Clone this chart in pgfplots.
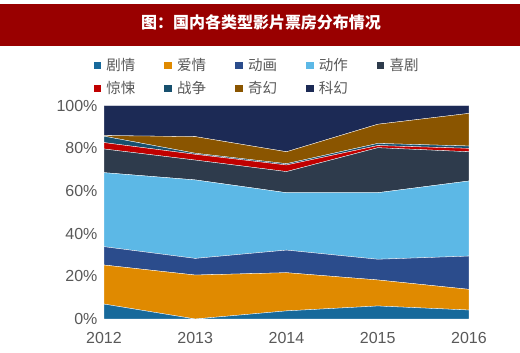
\documentclass[border=0pt]{standalone}
\usepackage{fontspec}
\setmainfont{Liberation Sans}
\newfontfamily\cjk{Noto Sans CJK SC}
\usepackage{pgfplots}
\pgfplotsset{compat=1.18}
\definecolor{cA}{HTML}{17699B}
\definecolor{cB}{HTML}{E08A00}
\definecolor{cC}{HTML}{2B4C8C}
\definecolor{cD}{HTML}{5CB8E6}
\definecolor{cE}{HTML}{2E3B4C}
\definecolor{cF}{HTML}{C00000}
\definecolor{cG}{HTML}{17506E}
\definecolor{cH}{HTML}{8A5500}
\definecolor{cI}{HTML}{1C2A55}
\definecolor{banner}{HTML}{990000}
\definecolor{tick}{HTML}{595959}
\begin{document}
\begin{tikzpicture}
\path[use as bounding box, fill=white] (0pt,0pt) rectangle (520pt,353pt);
\fill[banner] (0pt,307pt) rectangle (520pt,349pt);
\node[text=white, font=\cjk\bfseries\fontsize{16}{18}\selectfont] at (261pt,331pt) {图：国内各类型影片票房分布情况};
\begin{axis}[
  at={(104pt,34pt)}, anchor=south west,
  scale only axis, width=365pt, height=213.3pt,
  xmin=2012, xmax=2016, ymin=0, ymax=100,
  stack plots=y,
  axis line style={draw=none},
  major tick length=0pt,
  xtick={2012,2013,2014,2015,2016},
  ytick={0,20,40,60,80,100},
  yticklabel={\pgfmathprintnumber{\tick}\%},
  /pgf/number format/assume math mode=true,
  x tick label style={/pgf/number format/1000 sep={}, yshift=-10pt},
  y tick label style={xshift=-3pt},
  tick label style={font=\fontsize{16}{18}\selectfont, text=tick},
  legend columns=5,
  legend style={at={(-0.04,1.24)}, anchor=north west, draw=none, fill=none,
    font=\cjk\fontsize{14.5}{16}\selectfont, text=tick, row sep=5pt,
    /tikz/every odd column/.append style={column sep=3pt},
    /tikz/every even column/.append style={column sep=26pt}},
  legend image code/.code={\fill[#1] (0pt,-4pt) rectangle (8.5pt,4.5pt);},
  every axis plot/.append style={draw=white, line width=0.3pt},
]
\addplot[fill=cA] coordinates {(2012,7.0) (2013,0.0) (2014,3.8) (2015,6.1) (2016,4.2)} \closedcycle;
\addplot[fill=cB] coordinates {(2012,18.3) (2013,20.6) (2014,17.9) (2015,12.2) (2016,9.7)} \closedcycle;
\addplot[fill=cC] coordinates {(2012,8.6) (2013,7.8) (2014,10.6) (2015,9.7) (2016,15.6)} \closedcycle;
\addplot[fill=cD] coordinates {(2012,34.7) (2013,36.8) (2014,26.9) (2015,31.2) (2016,35.2)} \closedcycle;
\addplot[fill=cE] coordinates {(2012,11.1) (2013,9.3) (2014,9.9) (2015,21.1) (2016,13.7)} \closedcycle;
\addplot[fill=cF] coordinates {(2012,3.0) (2013,2.7) (2014,3.1) (2015,1.0) (2016,1.6)} \closedcycle;
\addplot[fill=cG] coordinates {(2012,3.0) (2013,0.5) (2014,0.6) (2015,1.0) (2016,1.1)} \closedcycle;
\addplot[fill=cH] coordinates {(2012,0.3) (2013,7.8) (2014,5.6) (2015,9.0) (2016,15.3)} \closedcycle;
\addplot[fill=cI] coordinates {(2012,14.0) (2013,14.5) (2014,21.6) (2015,8.7) (2016,3.6)} \closedcycle;
\legend{剧情,爱情,动画,动作,喜剧,惊悚,战争,奇幻,科幻}
\end{axis}
\end{tikzpicture}
\end{document}
